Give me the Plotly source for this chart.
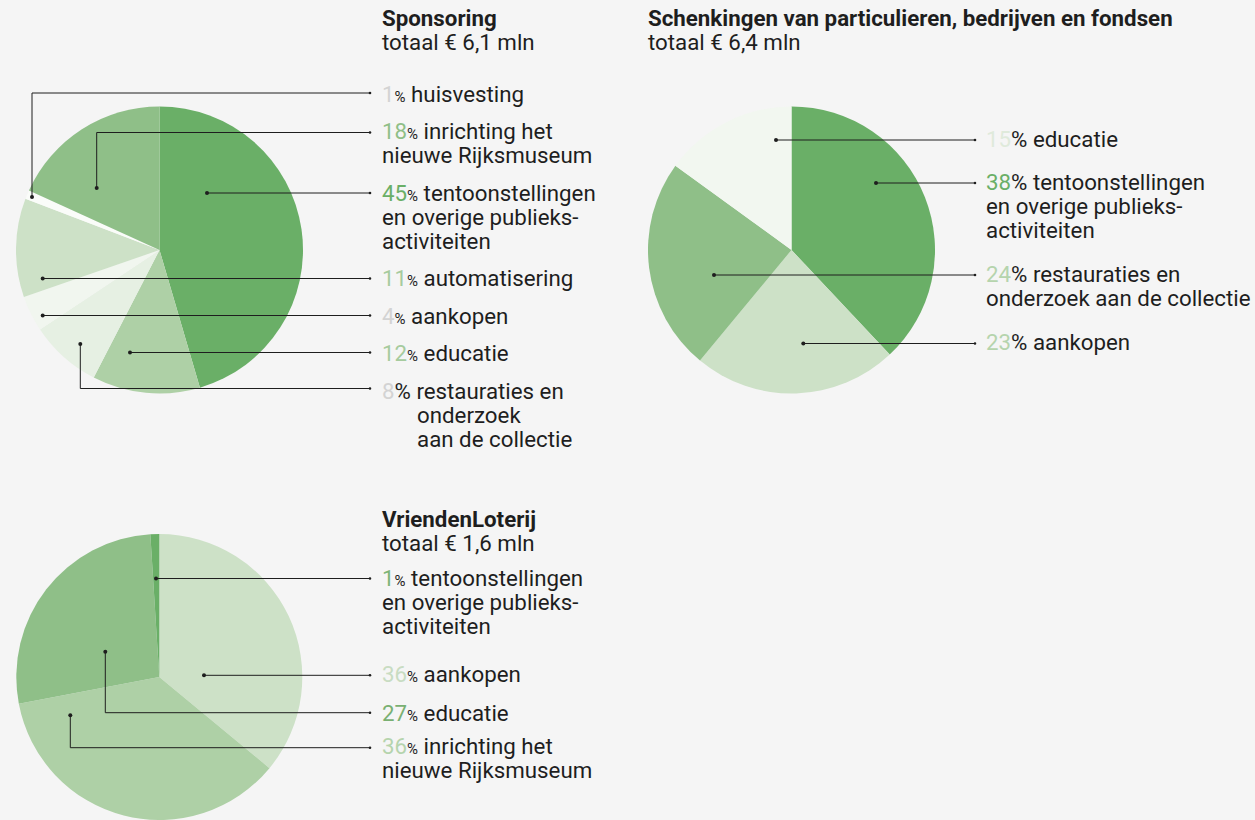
import plotly.graph_objects as go

# ---------------- data ----------------
spons_labels = ["tentoonstellingen en overige publieksactiviteiten", "educatie",
                "restauraties en onderzoek aan de collectie", "aankopen",
                "automatisering", "huisvesting", "inrichting het nieuwe Rijksmuseum"]
spons_values = [45, 12, 8, 4, 11, 1, 18]

schenk_labels = ["tentoonstellingen en overige publieksactiviteiten", "aankopen",
                 "restauraties en onderzoek aan de collectie", "educatie"]
schenk_values = [38, 23, 24, 15]

vrienden_labels = ["aankopen", "inrichting het nieuwe Rijksmuseum", "educatie",
                   "tentoonstellingen en overige publieksactiviteiten"]
vrienden_values = [36, 36, 27, 1]

titles = ["Sponsoring", "Schenkingen van particulieren, bedrijven en fondsen", "VriendenLoterij"]
totals = ["totaal € 6,1 mln", "totaal € 6,4 mln", "totaal € 1,6 mln"]

# ---------------- style ----------------
W, H = 1255, 820
BG = "#f5f5f5"
FONT = "Roboto"
FS = 22.3
FS_TITLE = 22.3
LH = 24
LINE = "#1e1e1e"

DARK, MID, LMID, LIGHT, PALE, PALER, WHITE = ("#6aaf67", "#8fbf88", "#aed0a6", "#cde1c7",
                                              "#e6f0e3", "#f1f6ef", "#fafcf9")
spons_colors = [DARK, LMID, PALE, PALER, LIGHT, WHITE, MID]
schenk_colors = [DARK, LIGHT, MID, "#f2f7f0"]
vrienden_colors = [LIGHT, LMID, MID, DARK]

def px(x):
    return x / W

def py(y):
    return 1 - y / H

fig = go.Figure()

def add_pie(values, labels, colors, cx, cy, r, ybottom=None):
    dom_y = [max(0, py(cy + r)), py(cy - r)]
    if ybottom is not None:
        dom_y = [0, py(cy - r)]
        r = (ybottom - (cy - r)) / 2
    fig.add_trace(go.Pie(
        values=values, labels=labels,
        marker=dict(colors=colors, line=dict(width=0)),
        domain=dict(x=[px(cx - r), px(cx + r)], y=dom_y),
        sort=False, direction="clockwise", rotation=0,
        textinfo="none", hoverinfo="label+percent", showlegend=False,
    ))

add_pie(spons_values, spons_labels, spons_colors, 159.5, 250, 143.5)
add_pie(schenk_values, schenk_labels, schenk_colors, 791.5, 250, 143.5)
add_pie(vrienden_values, vrienden_labels, vrienden_colors, 159.3, 677.5, 143.5, ybottom=820)

shapes = []
annotations = []

def leader(points, xend):
    pts = list(points) + [(xend, points[-1][1])]
    for (x0, y0), (x1, y1) in zip(pts[:-1], pts[1:]):
        shapes.append(dict(type="line", xref="paper", yref="paper",
                           x0=px(x0), y0=py(y0), x1=px(x1), y1=py(y1),
                           line=dict(color=LINE, width=1)))
    for (x, y), rr in ((pts[0], 2.0), (pts[-1], 1.3)):
        shapes.append(dict(type="circle", xref="paper", yref="paper",
                           x0=px(x - rr), x1=px(x + rr), y0=py(y + rr), y1=py(y - rr),
                           fillcolor=LINE, line=dict(width=0)))

def text(x, ycenter, lines, size=FS, sizes=None):
    for i, ln in enumerate(lines):
        s = sizes[i] if sizes else size
        annotations.append(dict(xref="paper", yref="paper", x=px(x - 2), y=py(ycenter + i * LH),
                                xanchor="left", yanchor="middle", align="left", showarrow=False,
                                text=ln, font=dict(family=FONT, size=s, color="#1e1e1e")))

def pct(v, color, small=True):
    ps = '<span style="font-size:15px">%</span>' if small else "%"
    return f'<span style="color:{color}">{v}</span>{ps}'

# titles
text(382, 17.5, [f"<b>{titles[0]}</b>", totals[0]], sizes=[FS_TITLE, FS])
text(648, 17.5, [f"<b>{titles[1]}</b>", totals[1]], sizes=[FS_TITLE, FS])
text(382, 518.5, [f"<b>{titles[2]}</b>", totals[2]], sizes=[FS_TITLE, FS])

GREY = "#d3d3d3"
# Sponsoring labels
XE1 = 370
XT1 = 382
leader([(32, 197), (32, 93)], XE1)
text(XT1, 94, [pct(spons_values[5], GREY) + " " + spons_labels[5]])
leader([(96.7, 188), (96.7, 132.5)], XE1)
text(XT1, 131, [pct(spons_values[6], "#8fbf88") + " inrichting het", "nieuwe Rijksmuseum"])
leader([(207, 193)], XE1)
text(XT1, 193, [pct(spons_values[0], DARK) + " tentoonstellingen", "en overige publieks-", "activiteiten"])
leader([(42.7, 278.5)], XE1)
text(XT1, 278, [pct(spons_values[4], "#a6cb9e") + " " + spons_labels[4]])
leader([(42.7, 315.5)], XE1)
text(XT1, 316, [pct(spons_values[3], GREY) + " " + spons_labels[3]])
leader([(130, 352.5)], XE1)
text(XT1, 353, [pct(spons_values[1], "#a6cb9e") + " " + spons_labels[1]])
leader([(80.3, 344), (80.3, 388.5)], XE1)
text(XT1, 391, [pct(spons_values[2], GREY, small=False) + " restauraties en"])
text(417, 415, ["onderzoek", "aan de collectie"])

# Schenkingen labels
XE2 = 975
XT2 = 986
leader([(776, 140)], XE2)
text(XT2, 139, [pct(schenk_values[3], "#dfeadb", small=False) + " " + schenk_labels[3]])
leader([(876, 183)], XE2)
text(XT2, 182, [pct(schenk_values[0], DARK, small=False) + " tentoonstellingen", "en overige publieks-", "activiteiten"])
leader([(714, 275)], XE2)
text(XT2, 274, [pct(schenk_values[2], "#b5d4ad", small=False) + " restauraties en", "onderzoek aan de collectie"])
leader([(803.3, 343.5)], XE2)
text(XT2, 342, [pct(schenk_values[1], "#b5d4ad", small=False) + " " + schenk_labels[1]])

# VriendenLoterij labels
leader([(156, 578.5)], XE1)
text(XT1, 578, [pct(vrienden_values[3], "#7db476") + " tentoonstellingen", "en overige publieks-", "activiteiten"])
leader([(204, 675.3)], XE1)
text(XT1, 674, [pct(vrienden_values[0], "#c8dcc2") + " " + vrienden_labels[0]])
leader([(105.3, 651.7), (105.3, 712.7)], XE1)
text(XT1, 713, [pct(vrienden_values[2], "#79b072") + " " + vrienden_labels[2]])
leader([(70.3, 715.3), (70.3, 747.7)], XE1)
text(XT1, 746, [pct(vrienden_values[1], "#b5d4ad") + " inrichting het", "nieuwe Rijksmuseum"])

fig.update_layout(
    width=W, height=H, margin=dict(l=0, r=0, t=0, b=0),
    paper_bgcolor=BG, plot_bgcolor=BG, showlegend=False,
    shapes=shapes, annotations=annotations,
    font=dict(family=FONT, size=FS, color="#1e1e1e"),
)

fig.write_html("out.html", config={"displayModeBar": False},
               post_script="document.body.style.margin='0';")
